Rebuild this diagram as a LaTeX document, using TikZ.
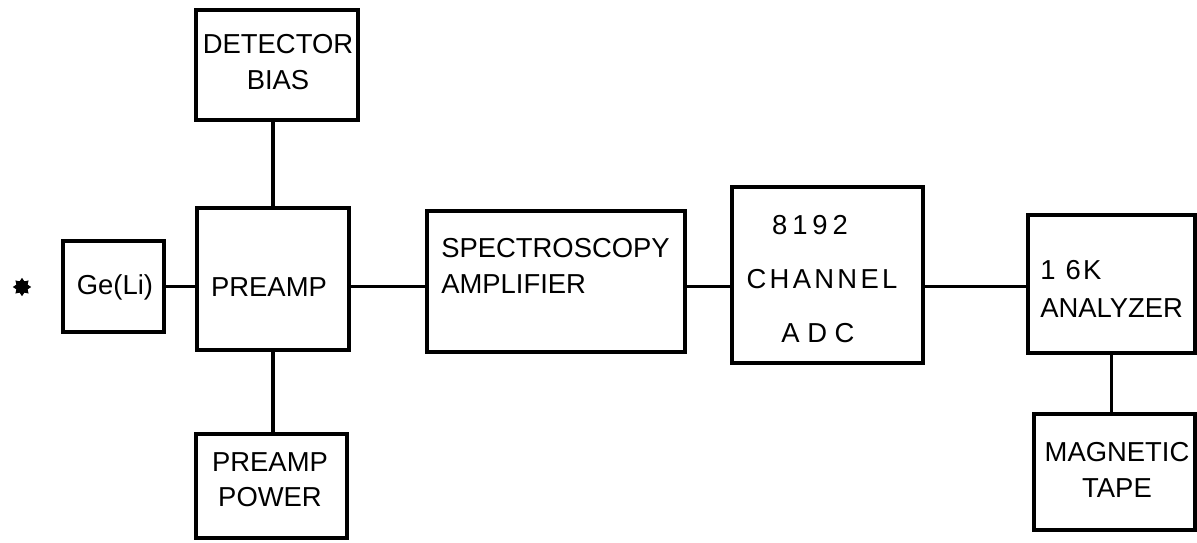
\documentclass[tikz,border=0pt]{standalone}
\usepackage{fontspec}
\setmainfont{Liberation Sans}
\usetikzlibrary{shapes.geometric}
\tikzset{
  blk/.style 2 args={rectangle,draw,line width=2.2pt,inner sep=0pt,minimum width=#1,minimum height=#2},
  txt/.style={inner sep=0pt,align=center,font=\fontsize{19.5}{25}\selectfont},
  wire/.style={-,draw,line width=2.2pt}
}

\begin{document}
\begin{tikzpicture}[x=0.25mm,y=-0.25mm]
  \useasboundingbox (0,0) rectangle (1197,543);
  \node[star,star points=8,star point ratio=1.5,fill,inner sep=0pt,minimum size=4.6mm] (src) at (22,287){};
  \node[blk={25.25mm}{22.75mm}] (geli) at (113.5,286.5){};
  \node[blk={38mm}{35.5mm}] (preamp) at (273,279){};
  \node[blk={40.5mm}{27.5mm}] (detbias) at (277,65){};
  \node[blk={37.75mm}{26mm}] (pwr) at (271.5,486){};
  \node[blk={64.5mm}{35.25mm}] (spec) at (556,281.5){};
  \node[blk={47.75mm}{44mm}] (adc) at (827.5,275){};
  \node[blk={41.75mm}{34.5mm}] (ana) at (1111.5,284){};
  \node[blk={40.25mm}{29mm}] (tape) at (1114.5,472){};
  % labels
  \node[txt] (geli-t) at (115,287){Ge(Li)};
  \node[txt] (preamp-t) at (269,287){PREAMP};
  \node[txt] (detbias-t) at (278,62){DETECTOR\\BIAS};
  \node[txt] (pwr-t) at (270,480){PREAMP\\POWER};
  \node[txt,anchor=west,align=left] (spec-t) at (441,266){SPECTROSCOPY\\AMPLIFIER};
  \node[txt,font=\fontsize{19.5}{38.4}\selectfont] (adc-t) at (822,279){{\addfontfeature{LetterSpace=18}8192}\hspace*{6mm}\\{\addfontfeature{LetterSpace=12}CHANNEL}\\A D C\hspace*{2mm}};
  \node[txt,anchor=west,align=left,font=\fontsize{19.5}{27}\selectfont] (ana-t) at (1040,289){1\kern2.5mm 6\kern0.6mm K\\ANALYZER};
  \node[txt] (tape-t) at (1117,470){MAGNETIC\\TAPE};
  % connectors
  \foreach \a/\b in {geli/preamp,preamp/spec,spec/adc,adc/ana}{\draw[wire] (\a.east |- geli) -- (\b.west |- geli);}
  \draw[wire] (preamp.north) -- (preamp.north |- detbias.south);
  \draw[wire] (preamp.south) -- (preamp.south |- pwr.north);
  \draw[wire] (ana.south) -- (ana.south |- tape.north);
\end{tikzpicture}
\end{document}
